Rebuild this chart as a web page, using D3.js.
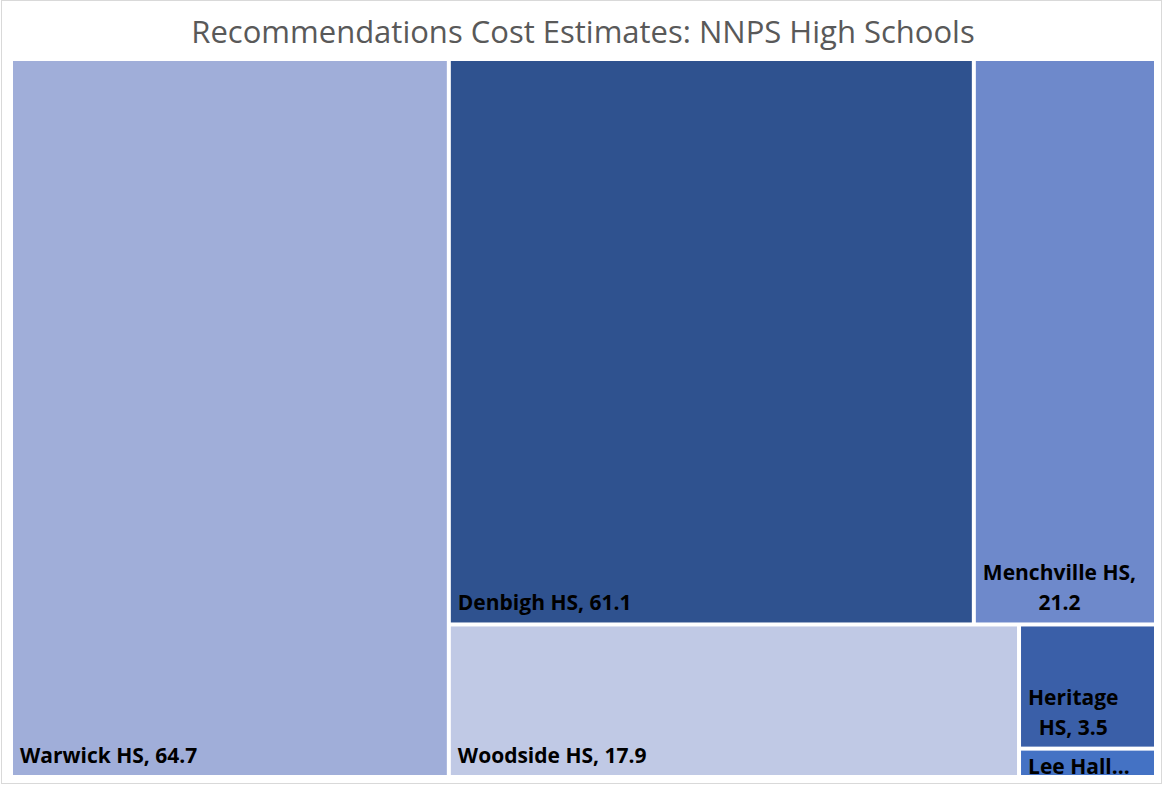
<!DOCTYPE html>
<html>
<head>
<meta charset="utf-8">
<script src="https://cdn.jsdelivr.net/npm/d3@7"></script>
<style>
  body { margin: 0; background: #fff; }
  text { font-family: "Open Sans", sans-serif; }
</style>
</head>
<body>
<div id="chart-area"></div>
<script>
// data
const schools = ['Warwick HS', 'Denbigh HS', 'Menchville HS', 'Woodside HS', 'Heritage HS', 'Lee Hall HS']
const costs = [64.7, 61.1, 21.2, 17.9, 3.5, 0.8]
const tileColors = ['#A0AED9', '#2F528F', '#6E89CB', '#C0C9E5', '#3A5FA8', '#4472C4']

const W = 1163, H = 786
const margin = { left: 13, top: 61, right: 9, bottom: 11 }
const width = W - margin.left - margin.right,
  height = H - margin.top - margin.bottom

let svg = d3.select('#chart-area')
  .append('svg')
  .attr('width', W)
  .attr('height', H)

// chart border
svg.append('rect')
  .attr('x', 1.5).attr('y', 0.5)
  .attr('width', 1160).attr('height', 783)
  .attr('fill', 'none')
  .attr('stroke', '#D9D9D9')

svg.append('text')
  .attr('x', 583)
  .attr('y', 43)
  .attr('text-anchor', 'middle')
  .attr('font-size', '31px')
  .attr('fill', '#595959')
  .text('Recommendations Cost Estimates: NNPS High Schools')

let color = d3.scaleOrdinal(schools, tileColors)

// excel-like squarified tiling: keep adding to a row while the
// first (largest) tile in the row gets squarer
function excelTile (parent, x0, y0, x1, y1) {
  const nodes = parent.children
  let value = parent.value, i = 0
  while (i < nodes.length) {
    const dx = x1 - x0, dy = y1 - y0
    const vertical = dx >= dy
    const side = vertical ? dy : dx
    const aspect = s => {
      const len = s / value * (vertical ? dx : dy)
      const first = nodes[i].value / s * side
      return Math.max(len / first, first / len)
    }
    let sum = nodes[i].value, j = i + 1
    let best = aspect(sum)
    while (j < nodes.length) {
      let r = aspect(sum + nodes[j].value)
      if (r > best) break
      best = r
      sum += nodes[j].value
      j++
    }
    const row = { children: nodes.slice(i, j), value: sum }
    if (vertical) {
      const xk = value ? x0 + dx * sum / value : x1
      d3.treemapSlice(row, x0, y0, xk, y1)
      x0 = xk
    } else {
      const yk = value ? y0 + dy * sum / value : y1
      d3.treemapDice(row, x0, y0, x1, yk)
      y0 = yk
    }
    value -= sum
    i = j
  }
}

const root = d3.hierarchy({ children: schools.map((s, i) => ({ name: s, value: costs[i] })) })
  .sum(d => d.value)
  .sort((a, b) => b.value - a.value)

d3.treemap()
  .tile(excelTile)
  .size([width + 2, height + 2])
  .paddingInner(2)(root)

let g = svg.append('g')
  .attr('transform', 'translate(' + (margin.left - 1) + ', ' + (margin.top - 1) + ')')

let cell = g.selectAll('g.cell')
  .data(root.leaves())
  .enter().append('g')
  .attr('class', 'cell')

cell.append('clipPath')
  .attr('id', (d, i) => 'clip' + i)
  .append('rect')
  .attr('x', d => d.x0).attr('y', d => d.y0)
  .attr('width', d => d.x1 - d.x0).attr('height', d => d.y1 - d.y0)

cell.append('rect')
  .attr('x', d => d.x0 + 1).attr('y', d => d.y0 + 1)
  .attr('width', d => d.x1 - d.x0 - 2).attr('height', d => d.y1 - d.y0 - 2)
  .attr('fill', d => color(d.data.name))

// labels
const fmt = d3.format('.1f')
const lh = 30
let measure = svg.append('text')
  .attr('font-size', '21px').attr('font-weight', 'bold')
const textW = s => { measure.text(s); return measure.node().getComputedTextLength() }

cell.each(function (d, i) {
  const x0 = d.x0 + 1, y0 = d.y0 + 1, x1 = d.x1 - 1, y1 = d.y1 - 1
  const maxW = x1 - x0 - 16
  const words = (d.data.name + ', ' + fmt(d.value)).split(' ')
  let lines = [], cur = ''
  words.forEach(w => {
    const t = cur ? cur + ' ' + w : w
    if (cur && textW(t) > maxW) { lines.push(cur); cur = w } else cur = t
  })
  lines.push(cur)

  let firstBase
  if (lines.length * lh + 8 <= y1 - y0) {
    firstBase = y1 - 12 - (lines.length - 1) * lh
  } else {
    const n = Math.max(1, Math.floor((y1 - y0 - 8) / lh))
    if (n < lines.length) {
      lines = lines.slice(0, n)
      lines[n - 1] = lines[n - 1] + '…'
    }
    firstBase = y0 + 23
  }
  const blockW = d3.max(lines, textW)

  d3.select(this).append('text')
    .attr('clip-path', 'url(#clip' + i + ')')
    .attr('font-size', '21px')
    .attr('font-weight', 'bold')
    .attr('fill', '#000')
    .attr('text-anchor', 'middle')
    .selectAll('tspan')
    .data(lines)
    .enter().append('tspan')
    .attr('x', x0 + 7 + blockW / 2)
    .attr('y', (l, k) => firstBase + k * lh)
    .text(l => l)
})
measure.remove()
</script>
</body>
</html>
